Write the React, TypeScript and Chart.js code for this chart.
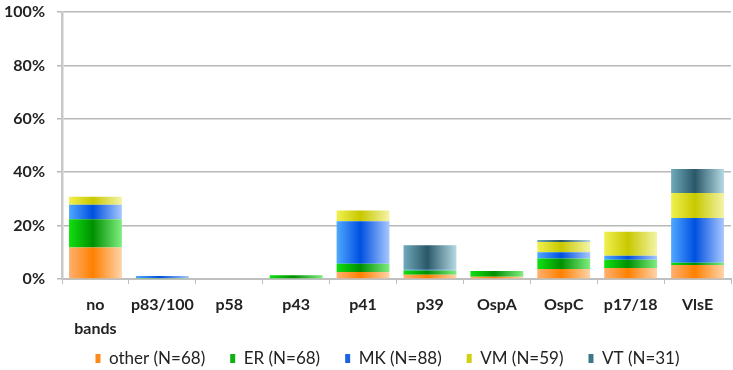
import React, { useEffect, useRef } from "react";
import { Chart, registerables } from "chart.js";

Chart.register(...registerables);

const categories: (string | string[])[] = [["no", "bands"], "p83/100", "p58", "p43", "p41", "p39", "OspA", "OspC", "p17/18", "VlsE"];
const other = [11.8, 0, 0, 0, 2.6, 1.6, 0.8, 3.7, 4.1, 5.2];
const er = [10.6, 0.4, 0, 1.4, 3.1, 1.6, 2.2, 4.0, 3.1, 0.9];
const mk = [5.4, 0.7, 0, 0, 15.9, 0.3, 0, 2.3, 1.5, 16.7];
const vm = [3.0, 0, 0, 0, 4.1, 0, 0, 3.9, 9.0, 9.4];
const vt = [0, 0, 0, 0, 0, 9.1, 0, 0.7, 0, 9.0];
const yTicks = [0, 20, 40, 60, 80, 100];

const BAR_PCT = 0.79;

function makeBg(stops: [number, string][], solid: string) {
  return (ctx: any) => {
    if (ctx.type !== "data") return solid;
    const chart = ctx.chart;
    const x = chart.scales && chart.scales.x;
    if (!x || !chart.chartArea) return solid;
    const cx = x.getPixelForValue(ctx.dataIndex);
    const w = (x.width / categories.length) * BAR_PCT;
    const g = chart.ctx.createLinearGradient(cx - w / 2, 0, cx + w / 2, 0);
    stops.forEach(([o, c]) => g.addColorStop(o, c));
    return g;
  };
}

const fills = [
  { label: "other (N=68)", data: other, solid: "#ff8a1a", stops: [[0, "#ffb070"], [0.45, "#ff8000"], [1, "#ffd4ac"]] },
  { label: "ER (N=68)", data: er, solid: "#10b010", stops: [[0, "#10e010"], [0.45, "#009000"], [1, "#80ee80"]] },
  { label: "MK (N=88)", data: mk, solid: "#1a64e0", stops: [[0, "#50a8ff"], [0.45, "#0050e0"], [1, "#a8c8ff"]] },
  { label: "VM (N=59)", data: vm, solid: "#d0d010", stops: [[0, "#f0f050"], [0.45, "#c8c800"], [1, "#f4f4a8"]] },
  { label: "VT (N=31)", data: vt, solid: "#3c7888", stops: [[0, "#70aabb"], [0.45, "#2a5868"], [1, "#b4dae4"]] },
];

const legendShift = {
  id: "legendShift",
  beforeDraw(c: any) {
    const l = c.legend;
    if (l && !l._shifted) {
      l._shifted = true;
      l.left += 22;
      l.right += 22;
    }
  },
};

export default function App() {
  const ref = useRef<HTMLCanvasElement>(null);
  useEffect(() => {
    document.body.style.margin = "0";
    const chart = new Chart(ref.current!, {
      type: "bar",
      plugins: [legendShift],
      data: {
        labels: categories,
        datasets: fills.map((f) => ({
          label: f.label,
          data: f.data,
          backgroundColor: makeBg(f.stops as [number, string][], f.solid),
          borderWidth: 0,
          barPercentage: BAR_PCT,
          categoryPercentage: 1,
        })),
      },
      options: {
        animation: false,
        responsive: false,
        maintainAspectRatio: false,
        layout: { padding: { top: 12, right: 2, left: 0, bottom: -7 } },
        plugins: {
          tooltip: { enabled: false },
          legend: {
            position: "bottom",
            labels: {
              boxWidth: 5,
              boxHeight: 9,
              padding: 25,
              color: "#222",
              font: { family: "Lato", size: 17 },
              generateLabels: (c: any) =>
                fills.map((f, i) => ({
                  text: f.label,
                  fillStyle: f.solid,
                  strokeStyle: f.solid,
                  lineWidth: 0,
                  hidden: !c.isDatasetVisible(i),
                  datasetIndex: i,
                  fontColor: "#222",
                })),
            },
          },
        },
        scales: {
          x: {
            stacked: true,
            offset: true,
            afterFit: (s: any) => {
              s.height = 46;
              s.paddingLeft = 0;
              s.paddingRight = 0;
              s._computeLabelArea = () => undefined;
            },
            grid: { offset: true, drawOnChartArea: false, tickLength: 5, color: "#bfbfbf", lineWidth: 1 },
            border: { color: "#bfbfbf", width: 2 },
            ticks: {
              color: "#222",
              font: { family: "Lato", size: 16, weight: "bold", lineHeight: 1.5 },
              maxRotation: 0,
              autoSkip: false,
              padding: 9,
            },
          },
          y: {
            stacked: true,
            min: 0,
            max: 100,
            afterFit: (s: any) => {
              s.width = 62;
              s.paddingTop = 0;
              s.paddingBottom = 0;
            },
            afterBuildTicks: (s: any) => { s.ticks = yTicks.map((v) => ({ value: v })); },
            grid: { color: "#b8b8b8", lineWidth: 1.5, tickLength: 5 },
            border: { color: "#c8c8c8", width: 2.5 },
            ticks: {
              color: "#222",
              font: { family: "Lato", size: 16, weight: "bold" },
              padding: 12,
              callback: (v: any) => v + "%",
            },
          },
        },
      },
    });
    return () => chart.destroy();
  }, []);
  return (
    <div style={{ width: 733, height: 370 }}>
      <canvas ref={ref} width={733} height={370} style={{ width: 733, height: 370 }} />
    </div>
  );
}
